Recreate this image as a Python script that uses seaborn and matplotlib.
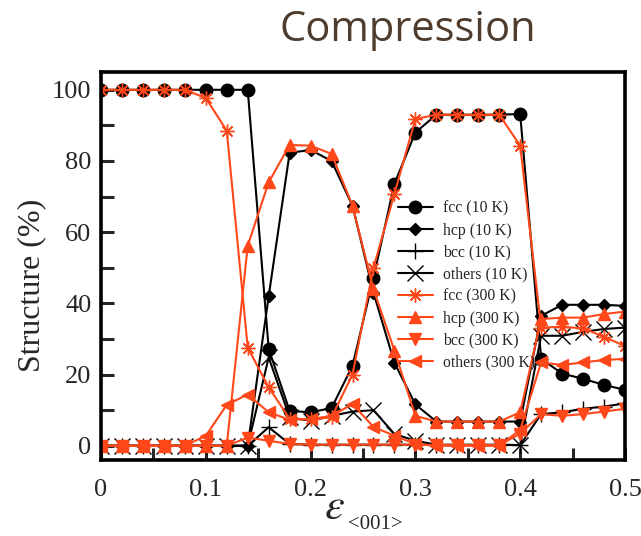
import numpy as np
import pandas as pd
import matplotlib
matplotlib.use("Agg")
import matplotlib.pyplot as plt
import seaborn as sns
from matplotlib.ticker import MultipleLocator, FuncFormatter

strain = [0, 0.02, 0.04, 0.06, 0.08, 0.10, 0.12, 0.14, 0.16, 0.18, 0.20, 0.22, 0.24,
          0.26, 0.28, 0.30, 0.32, 0.34, 0.36, 0.38, 0.40, 0.42, 0.44, 0.46, 0.48, 0.50]

fcc_10K = [100, 100, 100, 100, 100, 100, 100, 100, 27.2, 9.8, 9.4, 10.6, 22.5,
           47.2, 73.6, 88, 93, 93, 93, 93, 93.2, 24.4, 20.3, 18.8, 17.1, 15.7]
hcp_10K = [0, 0, 0, 0, 0, 0, 0, 0, 42, 82.3, 83.1, 80, 67.4,
           43, 23.3, 11.6, 6.8, 6.8, 6.8, 6.8, 6.8, 36.5, 39.6, 39.6, 39.6, 39.3]
bcc_10K = [0, 0, 0, 0, 0, 0, 0, 0, 5.2, 0.5, 0.3, 0.3, 0.3,
           0.3, 0.3, 0.3, 0.2, 0.2, 0.2, 0.2, 0.2, 8.9, 9.4, 10.4, 11, 11.9]
others_10K = [0, 0, 0, 0, 0, 0, 0, 0, 24.8, 8, 7, 8.4, 9.6,
              10, 3.3, 1.4, 0.3, 0.3, 0.3, 0.3, 0.2, 30.9, 30.9, 32, 32.8, 33.2]
fcc_300K = [100, 100, 100, 100, 100, 97.7, 88.5, 27.6, 16.4, 7.6, 7.4, 8, 20,
            50, 70.8, 91.8, 93, 93, 93, 93, 84.3, 33.2, 33.4, 33, 30.6, 28]
hcp_300K = [0, 0, 0, 0, 0, 0, 0, 56.2, 74, 84.5, 84.3, 82, 67.4,
            44, 26.7, 8.4, 6.8, 6.8, 6.8, 6.8, 9.4, 35.6, 36, 36, 37, 37.7]
bcc_300K = [0, 0, 0, 0, 0, 0, 0, 2.3, 1.4, 0.5, 0.3, 0.3, 0.3,
            0.3, 0.3, 0.3, 0.2, 0.2, 0.2, 0.2, 3.4, 8.9, 8.4, 8.9, 9.6, 10.4]
others_300K = [0, 0, 0, 0, 0, 2.8, 11.5, 14.4, 9.4, 7.3, 7.5, 8.4, 11.7,
               5.3, 2.8, 0.5, 0, 0, 0, 0, 4.5, 23.4, 22.7, 23.4, 24.1, 24.4]

labels = ["fcc (10 K)", "hcp (10 K)", "bcc (10 K)", "others (10 K)",
          "fcc (300 K)", "hcp (300 K)", "bcc (300 K)", "others (300 K)"]
series = [fcc_10K, hcp_10K, bcc_10K, others_10K, fcc_300K, hcp_300K, bcc_300K, others_300K]

sns.set_theme(style="ticks")
plt.rcParams["font.family"] = ["Liberation Serif", "DejaVu Serif"]
plt.rcParams["mathtext.fontset"] = "stix"

BLACK = "#000000"
RED = "#ff4719"
styles = [
    dict(color=BLACK, marker="o", markersize=9, mec=BLACK, mfc=BLACK),
    dict(color=BLACK, marker="D", markersize=6.5, mec=BLACK, mfc=BLACK),
    dict(color=BLACK, marker="+", markersize=11, mec=BLACK, mew=1.0),
    dict(color=BLACK, marker="x", markersize=11, mec=BLACK, mew=1.0),
    dict(color=RED, marker=(8, 2, 0), markersize=10, mec=RED, mew=1.0),
    dict(color=RED, marker="^", markersize=8, mec=RED, mfc=RED),
    dict(color=RED, marker="v", markersize=8, mec=RED, mfc=RED),
    dict(color=RED, marker="<", markersize=8, mec=RED, mfc=RED),
]

fig = plt.figure(figsize=(6.41, 5.36), dpi=100)
ax = fig.add_axes([101 / 641, 1 - 460 / 536, 524 / 641, 388 / 536])

for lab, vals, st in zip(labels, series, styles):
    df = pd.DataFrame({"strain": strain, "pct": vals})
    sns.lineplot(data=df, x="strain", y="pct", ax=ax, label=lab,
                 color=st["color"], marker=st["marker"], markersize=st["markersize"],
                 markeredgecolor=st["mec"], markerfacecolor=st.get("mfc", st["color"]),
                 markeredgewidth=st.get("mew", 1.0), linewidth=1.5, estimator=None)

ax.set_xlim(0, 0.5)
ax.set_ylim(-4, 105)
ax.xaxis.set_major_locator(MultipleLocator(0.1))
ax.xaxis.set_minor_locator(MultipleLocator(0.05))
ax.yaxis.set_major_locator(MultipleLocator(20))
ax.yaxis.set_minor_locator(MultipleLocator(10))
ax.xaxis.set_major_formatter(FuncFormatter(
    lambda v, p: "0" if abs(v) < 1e-9 else f"{v:.1f}"))
ax.tick_params(axis="both", which="both", direction="in", width=2.2, length=9,
               labelsize=19, top=False, right=False)
ax.tick_params(axis="x", pad=14)
ax.tick_params(axis="y", pad=7)
for sp in ax.spines.values():
    sp.set_linewidth(2.6)
    sp.set_color("black")

# x label: italic epsilon with a smaller roman subscript
ax.set_xlabel("")
fig.text(334 / 641, 1 - 519 / 536, r"$\varepsilon$", fontsize=32,
         ha="center", va="baseline")
fig.text(375 / 641, 1 - 529 / 536, "<001>", fontsize=15,
         ha="center", va="baseline")

ax.set_ylabel("Structure (%)", fontsize=23)
ax.yaxis.set_label_coords(-0.105, 0.45)

leg = ax.legend(loc="upper left", bbox_to_anchor=(0.555, 0.684), frameon=False,
                fontsize=11.3, handlelength=2.2, labelspacing=0.38, handletextpad=0.64,
                borderaxespad=0)

fig.text(408 / 641, 1 - 30 / 536, "Compression", ha="center", va="center",
         fontsize=30, color="#4e3d2f", family=["Open Sans", "DejaVu Sans"])

fig.savefig("out.png", dpi=100)
